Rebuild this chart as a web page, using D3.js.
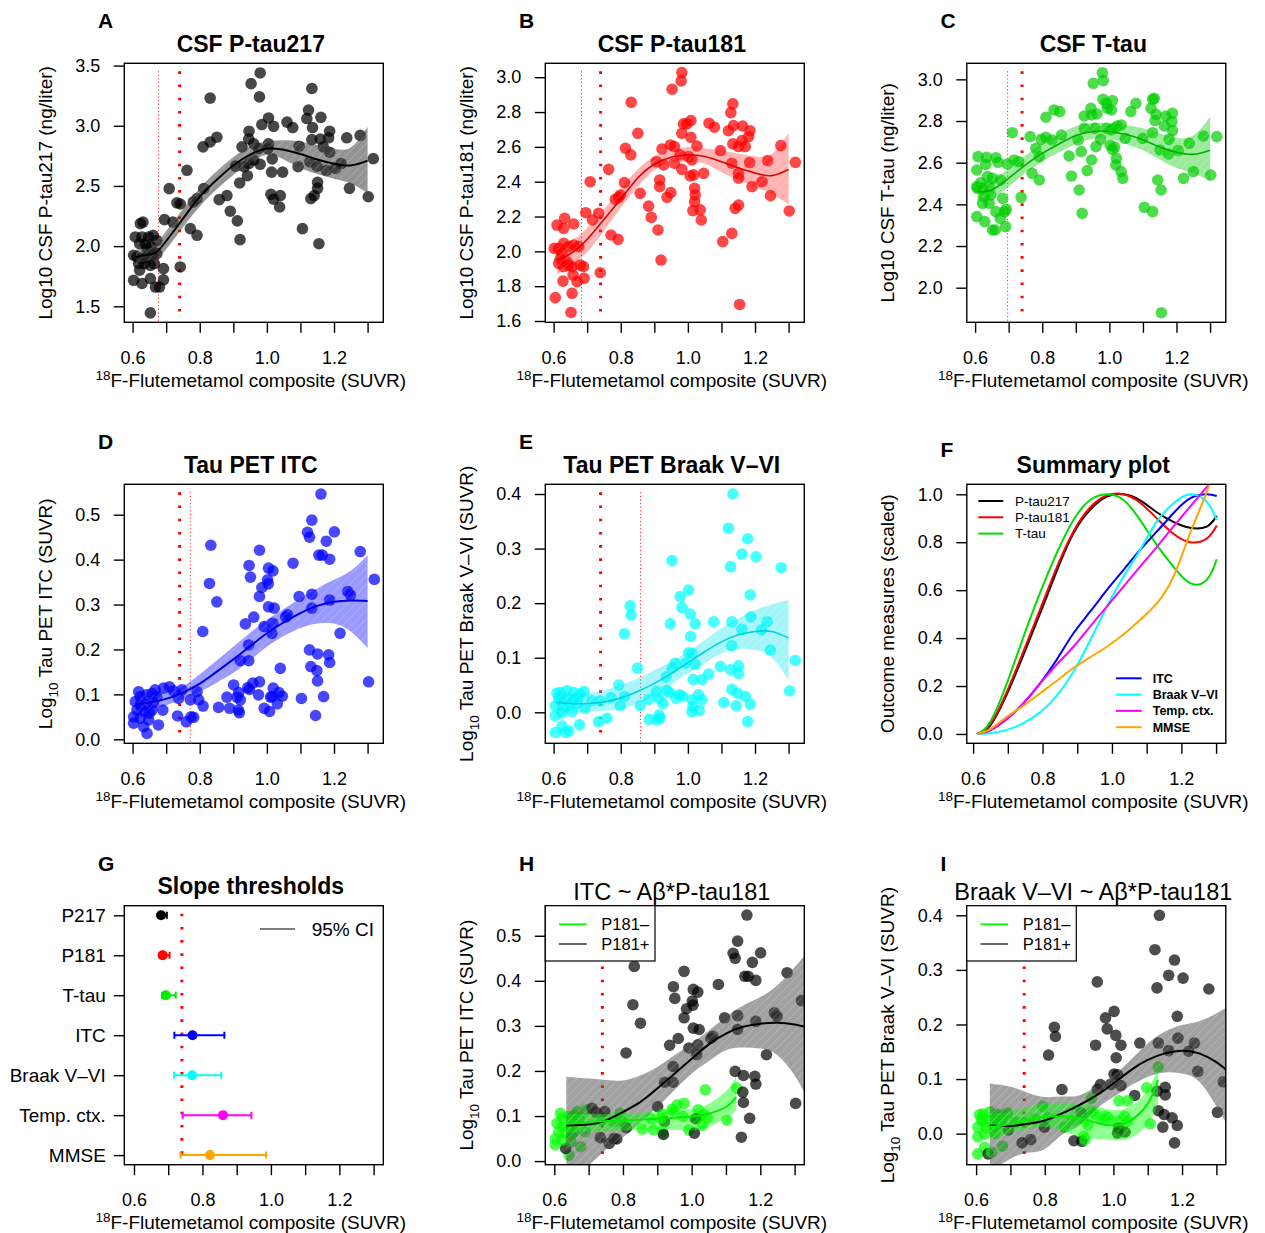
<!DOCTYPE html>
<html>
<head>
<meta charset="utf-8">
<title>Amyloid slope thresholds</title>
<script src="https://cdn.jsdelivr.net/npm/d3@7"></script>
<style>
body { margin: 0; background: #fff; }
svg { font-family: "Liberation Sans", Arial, Helvetica, sans-serif; }
</style>
</head>
<body>
<svg width="1265" height="1233"></svg>
<script>
// ---------- data ----------
var xTicks = [0.6, 0.7, 0.8, 0.9, 1.0, 1.1, 1.2, 1.3];
var xLabels = ["0.6", "", "0.8", "", "1.0", "", "1.2", ""];
var threshold = 0.74;

// A: CSF P-tau217
var aPoints = [[0.980,3.439],[0.953,3.35],[1.134,3.31],[0.978,3.24],[0.831,3.23],[1.124,3.13],[1.119,3.06],[1.161,3.07],[1.005,3.065],[1.060,3.03],[1.077,2.985],[0.985,3.01],[1.020,2.995],[1.136,2.985],[1.278,2.92],[1.238,2.90],[1.187,2.955],[1.184,2.90],[1.159,2.89],[1.134,2.885],[0.947,2.955],[0.851,2.905],[0.831,2.865],[0.810,2.825],[0.946,2.89],[0.961,2.85],[0.926,2.825],[0.975,2.81],[1.005,2.85],[1.003,2.81],[1.096,2.83],[1.187,2.78],[1.168,2.825],[0.961,2.715],[0.980,2.68],[0.946,2.685],[1.016,2.725],[0.907,2.665],[0.932,2.66],[0.942,2.585],[0.919,2.525],[1.128,2.70],[1.149,2.665],[1.177,2.63],[1.204,2.645],[1.221,2.685],[1.093,2.66],[1.014,2.615],[1.047,2.615],[1.151,2.53],[1.151,2.48],[1.141,2.42],[1.131,2.395],[1.246,2.48],[1.302,2.41],[1.317,2.727],[1.012,2.43],[1.020,2.39],[1.038,2.325],[1.040,2.42],[0.762,2.63],[0.709,2.478],[0.812,2.478],[0.792,2.395],[0.781,2.367],[0.732,2.36],[0.742,2.35],[0.858,2.386],[0.881,2.42],[0.891,2.29],[0.912,2.21],[0.920,2.054],[1.106,2.145],[1.155,2.02],[0.695,2.22],[0.720,2.20],[0.772,2.145],[0.792,2.09],[0.742,1.827],[0.692,1.813],[0.692,1.72],[0.680,1.66],[0.668,1.66],[0.653,1.445],[0.631,2.20],[0.623,2.187],[0.608,2.076],[0.628,2.076],[0.648,2.076],[0.661,2.09],[0.638,2.02],[0.655,1.993],[0.603,1.924],[0.613,1.91],[0.628,1.896],[0.643,1.91],[0.658,1.924],[0.672,1.938],[0.618,1.855],[0.635,1.855],[0.653,1.84],[0.621,1.80],[0.603,1.716],[0.628,1.69],[0.653,1.73],[0.643,1.98],[0.621,2.02],[0.665,1.855],[0.672,2.048]];
var aFitX = [0.61, 0.65, 0.68, 0.74, 0.80, 0.85, 0.90, 0.95, 1.00, 1.05, 1.10, 1.15, 1.20, 1.25, 1.30];
var aFit = [1.91, 1.93, 1.975, 2.19, 2.41, 2.55, 2.67, 2.76, 2.81, 2.80, 2.765, 2.72, 2.685, 2.67, 2.71];
var aLo = [1.85, 1.88, 1.91, 2.12, 2.33, 2.47, 2.59, 2.69, 2.76, 2.72, 2.65, 2.60, 2.56, 2.52, 2.44];
var aHi = [1.97, 1.98, 2.05, 2.27, 2.48, 2.62, 2.74, 2.83, 2.87, 2.88, 2.87, 2.84, 2.81, 2.82, 2.99];

// B: CSF P-tau181
var bPoints = [[0.982,3.027],[0.980,2.979],[0.953,2.931],[0.831,2.856],[1.134,2.847],[1.128,2.797],[1.063,2.736],[1.079,2.713],[0.987,2.732],[0.997,2.732],[1.009,2.751],[1.136,2.722],[1.121,2.693],[1.163,2.720],[1.185,2.693],[1.181,2.659],[0.851,2.678],[0.982,2.678],[0.814,2.592],[0.830,2.554],[1.277,2.607],[1.134,2.617],[1.161,2.636],[1.171,2.602],[1.151,2.602],[0.948,2.611],[0.960,2.602],[0.923,2.588],[0.977,2.554],[1.009,2.655],[1.027,2.605],[1.097,2.579],[0.764,2.471],[0.709,2.40],[0.811,2.395],[0.960,2.506],[0.906,2.515],[0.928,2.496],[1.012,2.525],[1.002,2.544],[0.982,2.471],[1.007,2.433],[1.017,2.439],[1.047,2.448],[1.131,2.506],[1.151,2.42],[1.151,2.448],[1.184,2.510],[1.191,2.372],[1.221,2.40],[1.238,2.521],[1.246,2.32],[1.302,2.232],[1.320,2.511],[0.916,2.41],[0.916,2.372],[0.938,2.31],[0.949,2.337],[0.858,2.333],[1.020,2.362],[1.022,2.324],[1.020,2.285],[1.015,2.234],[1.037,2.238],[1.040,2.18],[1.141,2.247],[1.151,2.266],[0.883,2.26],[0.891,2.195],[0.911,2.123],[1.104,2.056],[1.131,2.103],[0.920,1.95],[1.154,1.695],[0.784,2.299],[0.794,2.31],[0.799,2.324],[0.696,2.222],[0.716,2.18],[0.734,2.218],[0.771,2.094],[0.792,2.069],[0.739,1.877],[0.689,1.912],[0.679,1.921],[0.691,1.845],[0.670,1.826],[0.655,1.759],[0.652,1.649],[0.605,1.734],[0.610,2.151],[0.633,2.19],[0.630,2.132],[0.660,2.157],[0.602,2.017],[0.615,2.017],[0.630,2.046],[0.645,2.027],[0.660,2.036],[0.675,2.027],[0.625,1.989],[0.615,1.931],[0.630,1.912],[0.645,1.921],[0.620,1.960],[0.655,1.912],[0.628,1.829],[0.658,1.864],[0.640,1.94]];
var bFitX = [0.61, 0.63, 0.68, 0.74, 0.80, 0.85, 0.90, 0.95, 1.00, 1.05, 1.10, 1.15, 1.20, 1.25, 1.30];
var bFit = [1.955, 1.965, 2.03, 2.16, 2.30, 2.42, 2.50, 2.54, 2.555, 2.545, 2.515, 2.48, 2.45, 2.435, 2.47];
var bLo = [1.87, 1.89, 1.96, 2.09, 2.25, 2.37, 2.465, 2.51, 2.515, 2.505, 2.455, 2.41, 2.37, 2.33, 2.27];
var bHi = [2.04, 2.04, 2.10, 2.22, 2.36, 2.47, 2.545, 2.58, 2.60, 2.59, 2.58, 2.56, 2.545, 2.56, 2.68];

// C: CSF T-tau
var cPoints = [[0.979,3.032],[0.982,2.994],[0.952,2.981],[0.981,2.904],[1.009,2.898],[0.991,2.885],[0.994,2.861],[1.006,2.853],[1.134,2.909],[1.129,2.904],[1.079,2.885],[1.064,2.845],[1.124,2.861],[1.139,2.832],[1.188,2.837],[1.168,2.824],[1.136,2.802],[1.186,2.797],[1.164,2.776],[1.188,2.754],[1.129,2.744],[1.178,2.712],[1.099,2.717],[1.280,2.728],[1.320,2.725],[1.238,2.693],[1.205,2.658],[1.151,2.661],[1.176,2.642],[1.250,2.557],[1.221,2.525],[1.302,2.541],[1.144,2.517],[1.154,2.469],[1.104,2.386],[1.129,2.365],[1.155,1.88],[0.945,2.861],[0.947,2.829],[0.963,2.834],[0.925,2.824],[0.925,2.765],[0.957,2.765],[0.992,2.765],[1.006,2.757],[1.023,2.776],[1.035,2.781],[1.016,2.765],[0.974,2.712],[1.002,2.685],[1.009,2.664],[1.016,2.674],[1.021,2.621],[1.019,2.589],[1.035,2.557],[1.040,2.525],[1.047,2.717],[0.960,2.677],[0.907,2.709],[0.916,2.653],[0.947,2.613],[0.934,2.562],[0.887,2.536],[0.880,2.632],[0.910,2.469],[0.919,2.357],[0.857,2.733],[0.835,2.853],[0.852,2.845],[0.811,2.818],[0.797,2.712],[0.811,2.722],[0.829,2.709],[0.781,2.669],[0.791,2.629],[0.770,2.549],[0.791,2.517],[0.764,2.725],[0.711,2.744],[0.716,2.613],[0.730,2.605],[0.737,2.434],[0.696,2.594],[0.693,2.376],[0.691,2.293],[0.609,2.629],[0.634,2.626],[0.662,2.624],[0.668,2.602],[0.605,2.565],[0.632,2.592],[0.605,2.485],[0.617,2.504],[0.637,2.533],[0.652,2.525],[0.676,2.517],[0.622,2.477],[0.642,2.485],[0.627,2.437],[0.647,2.445],[0.622,2.405],[0.642,2.405],[0.682,2.429],[0.605,2.341],[0.629,2.317],[0.662,2.365],[0.675,2.333],[0.688,2.365],[0.652,2.277],[0.660,2.277],[0.607,2.477]];
var cFitX = [0.607, 0.65, 0.70, 0.75, 0.80, 0.85, 0.90, 0.95, 1.00, 1.05, 1.10, 1.15, 1.20, 1.25, 1.30];
var cFit = [2.46, 2.47, 2.525, 2.59, 2.645, 2.69, 2.73, 2.75, 2.75, 2.735, 2.71, 2.675, 2.65, 2.64, 2.66];
var cLo = [2.42, 2.43, 2.485, 2.55, 2.605, 2.65, 2.69, 2.715, 2.715, 2.69, 2.66, 2.615, 2.575, 2.55, 2.51];
var cHi = [2.51, 2.515, 2.573, 2.635, 2.69, 2.735, 2.775, 2.79, 2.79, 2.78, 2.765, 2.74, 2.72, 2.73, 2.82];

// D / H: tau PET ITC  [x, y, P-tau181 positive]
var itcPoints = [[1.161,0.546,1],[1.134,0.488,1],[0.833,0.432,1],[1.121,0.461,1],[1.127,0.450,1],[1.201,0.462,1],[1.177,0.441,1],[1.278,0.418,1],[0.978,0.421,1],[1.155,0.410,1],[1.165,0.410,1],[1.187,0.401,1],[1.078,0.392,1],[0.947,0.387,1],[1.005,0.381,1],[1.018,0.375,1],[0.951,0.361,1],[0.829,0.347,1],[1.002,0.355,1],[1.004,0.346,1],[1.320,0.356,1],[0.985,0.338,1],[0.851,0.306,1],[0.978,0.318,1],[1.134,0.323,1],[1.096,0.318,1],[1.241,0.329,1],[1.249,0.321,1],[1.187,0.310,1],[1.005,0.295,1],[1.022,0.292,1],[1.134,0.292,1],[1.062,0.277,1],[1.056,0.272,1],[0.961,0.272,1],[0.936,0.257,1],[1.018,0.258,1],[0.992,0.251,1],[1.015,0.236,1],[1.218,0.236,1],[0.809,0.240,1],[0.946,0.210,1],[0.946,0.175,1],[0.921,0.175,1],[1.127,0.199,1],[1.151,0.190,1],[1.184,0.188,1],[1.187,0.171,1],[1.131,0.162,0],[1.149,0.153,1],[1.151,0.130,1],[1.169,0.095,1],[1.145,0.053,1],[1.303,0.128,1],[1.040,0.158,0],[1.103,0.091,0],[0.901,0.121,1],[0.978,0.128,0],[0.958,0.125,0],[0.948,0.111,0],[0.943,0.115,0],[0.916,0.104,0],[0.921,0.088,1],[0.911,0.094,0],[0.881,0.094,0],[0.975,0.099,0],[1.019,0.114,0],[1.016,0.095,0],[1.036,0.104,0],[1.046,0.096,0],[1.011,0.094,1],[1.031,0.079,0],[0.992,0.069,0],[1.008,0.062,1],[0.915,0.065,0],[0.918,0.059,1],[0.889,0.069,0],[0.856,0.071,0],[0.792,0.106,0],[0.797,0.088,0],[0.810,0.074,1],[0.737,0.091,0],[0.774,0.050,1],[0.782,0.049,1],[0.760,0.039,1],[0.734,0.052,1],[0.722,0.108,1],[0.692,0.114,0],[0.710,0.117,1],[0.690,0.065,0],[0.677,0.032,0],[0.643,0.013,0],[0.633,0.028,1],[0.603,0.036,0],[0.603,0.050,0],[0.613,0.065,0],[0.608,0.084,0],[0.623,0.095,0],[0.641,0.099,0],[0.658,0.102,0],[0.672,0.095,0],[0.623,0.076,0],[0.643,0.076,0],[0.662,0.082,0],[0.633,0.062,0],[0.650,0.058,0],[0.623,0.047,0],[0.648,0.043,0],[0.618,0.106,0],[0.667,0.110,0],[0.658,0.065,0],[0.747,0.110,1],[0.772,0.088,0]];
var dFitX = [0.61, 0.65, 0.70, 0.75, 0.80, 0.85, 0.90, 0.95, 1.00, 1.05, 1.10, 1.15, 1.20, 1.25, 1.30];
var dFit = [0.078, 0.082, 0.090, 0.104, 0.124, 0.150, 0.178, 0.207, 0.236, 0.260, 0.281, 0.297, 0.306, 0.309, 0.308];
var dLo = [0.058, 0.065, 0.076, 0.090, 0.106, 0.126, 0.148, 0.176, 0.206, 0.230, 0.248, 0.258, 0.258, 0.240, 0.203];
var dHi = [0.097, 0.099, 0.105, 0.118, 0.145, 0.175, 0.206, 0.237, 0.266, 0.290, 0.314, 0.336, 0.355, 0.375, 0.410];

// E / I: tau PET Braak V-VI  [x, y, P-tau181 positive]
var braakPoints = [[1.134,0.400,1],[1.121,0.337,1],[1.178,0.318,1],[1.161,0.290,1],[1.203,0.285,1],[1.127,0.267,1],[1.278,0.265,1],[0.953,0.278,1],[1.002,0.224,1],[0.977,0.212,1],[1.186,0.215,1],[0.828,0.195,1],[0.831,0.178,1],[0.982,0.192,1],[1.007,0.180,1],[0.948,0.162,1],[1.022,0.162,1],[0.811,0.144,1],[1.077,0.166,1],[1.188,0.175,1],[1.131,0.166,1],[1.161,0.152,1],[1.236,0.166,1],[1.219,0.151,1],[1.008,0.139,1],[1.131,0.122,0],[1.246,0.114,1],[1.320,0.095,1],[1.002,0.109,1],[1.012,0.108,1],[1.022,0.088,1],[0.992,0.090,1],[0.962,0.090,1],[0.953,0.081,1],[0.936,0.065,0],[1.097,0.084,0],[1.127,0.078,1],[1.151,0.085,1],[1.151,0.071,1],[1.062,0.070,1],[1.042,0.060,0],[1.016,0.060,0],[0.850,0.081,1],[0.937,0.040,0],[0.945,0.036,0],[0.975,0.032,0],[0.985,0.029,0],[0.965,0.026,0],[0.906,0.038,1],[0.913,0.026,0],[0.926,0.016,0],[1.012,0.023,0],[1.015,0.010,1],[1.032,0.032,0],[1.042,0.023,0],[1.012,0.001,1],[1.034,0.003,1],[1.131,0.042,1],[1.148,0.035,1],[1.171,0.029,1],[1.144,0.012,1],[1.186,0.015,1],[1.107,0.018,0],[1.178,-0.017,1],[1.303,0.039,1],[0.914,-0.005,0],[0.885,-0.013,1],[0.908,-0.014,1],[0.917,-0.011,0],[0.883,0.024,0],[0.858,0.012,0],[0.794,0.050,0],[0.811,0.029,0],[0.799,0.012,1],[0.771,0.027,0],[0.759,-0.011,1],[0.734,-0.017,1],[0.739,0.021,0],[0.694,0.007,1],[0.677,-0.023,0],[0.679,0.034,0],[0.691,0.038,0],[0.660,0.036,0],[0.640,0.040,0],[0.620,0.036,0],[0.610,0.035,0],[0.605,0.012,0],[0.605,-0.006,0],[0.605,-0.037,0],[0.625,-0.025,0],[0.635,-0.037,1],[0.645,-0.034,0],[0.620,0.023,0],[0.640,0.023,0],[0.660,0.024,0],[0.630,0.010,0],[0.650,0.013,0],[0.670,0.016,0],[0.625,-0.001,0],[0.655,0.001,0],[0.675,0.026,0],[0.615,0.026,0],[0.714,0.021,0]];
var eFitX = [0.61, 0.65, 0.70, 0.75, 0.80, 0.85, 0.90, 0.95, 1.00, 1.05, 1.10, 1.15, 1.20, 1.25, 1.30];
var eFit = [0.018, 0.016, 0.016, 0.019, 0.026, 0.038, 0.053, 0.071, 0.091, 0.111, 0.129, 0.142, 0.148, 0.148, 0.136];
var eLo = [-0.008, -0.002, 0.001, 0.003, 0.006, 0.016, 0.029, 0.050, 0.071, 0.090, 0.108, 0.116, 0.114, 0.100, 0.059];
var eHi = [0.040, 0.036, 0.035, 0.040, 0.050, 0.062, 0.077, 0.093, 0.111, 0.132, 0.154, 0.172, 0.187, 0.198, 0.206];

// F: summary curves (scaled)
var fX = [0.611, 0.649, 0.697, 0.745, 0.793, 0.841, 0.889, 0.937, 0.985, 1.033, 1.081, 1.129, 1.177, 1.225, 1.273, 1.302];
var fPtau217 = [0, 0.035, 0.165, 0.33, 0.503, 0.68, 0.837, 0.935, 0.99, 1.0, 0.975, 0.925, 0.885, 0.86, 0.865, 0.91];
var fPtau181 = [0, 0.04, 0.175, 0.345, 0.52, 0.695, 0.845, 0.945, 0.995, 1.0, 0.965, 0.9, 0.835, 0.80, 0.815, 0.87];
var fTtau = [0, 0.05, 0.21, 0.405, 0.59, 0.755, 0.893, 0.976, 1.0, 0.976, 0.893, 0.789, 0.698, 0.629, 0.643, 0.729];
var fItc = [0, 0.015, 0.062, 0.128, 0.211, 0.31, 0.42, 0.51, 0.60, 0.684, 0.768, 0.844, 0.921, 0.983, 1.0, 0.993];
var fBraak = [0, 0.003, 0.017, 0.045, 0.09, 0.16, 0.26, 0.39, 0.53, 0.656, 0.768, 0.886, 0.962, 1.0, 0.969, 0.893];
var fTemp = [0, 0.015, 0.062, 0.128, 0.211, 0.29, 0.364, 0.448, 0.531, 0.615, 0.698, 0.78, 0.865, 0.948, 1.03, 1.08];
var fMmse = [0, 0.02, 0.072, 0.118, 0.17, 0.222, 0.275, 0.32, 0.364, 0.415, 0.476, 0.545, 0.656, 0.837, 1.01, 1.15];

// G: slope thresholds with 95% CI
var gLabels = ["P217", "P181", "T-tau", "ITC", "Braak V\u2013VI", "Temp. ctx.", "MMSE"];
var gEst = [0.679, 0.684, 0.693, 0.771, 0.770, 0.860, 0.822];
var gLo = [0.672, 0.675, 0.682, 0.718, 0.717, 0.742, 0.736];
var gHi = [0.696, 0.704, 0.722, 0.864, 0.855, 0.943, 0.986];
var gColors = ["#000000", "#ff0000", "#00ee00", "#0000ff", "#00ffff", "#ff00ff", "#ffa500"];

// H: ITC fits by P-tau181 status
var hPosX = [0.635, 0.70, 0.75, 0.80, 0.85, 0.90, 0.95, 1.00, 1.05, 1.10, 1.15, 1.20, 1.25, 1.30, 1.33];
var hPosFit = [0.079, 0.081, 0.090, 0.109, 0.131, 0.161, 0.194, 0.227, 0.259, 0.283, 0.298, 0.305, 0.307, 0.303, 0.298];
var hPosLo = [-0.05, -0.01, 0.025, 0.053, 0.085, 0.12, 0.158, 0.194, 0.222, 0.246, 0.252, 0.250, 0.235, 0.19, 0.15];
var hPosHi = [0.187, 0.183, 0.180, 0.179, 0.19, 0.209, 0.235, 0.261, 0.29, 0.32, 0.345, 0.364, 0.39, 0.43, 0.457];
var hNegX = [0.635, 0.70, 0.80, 0.90, 1.00, 1.05, 1.10, 1.13];
var hNegFit = [0.083, 0.087, 0.090, 0.094, 0.099, 0.105, 0.12, 0.142];
var hNegLo = [0.061, 0.066, 0.068, 0.070, 0.068, 0.076, 0.095, 0.113];
var hNegHi = [0.105, 0.104, 0.105, 0.110, 0.116, 0.127, 0.155, 0.187];

// I: Braak V-VI fits by P-tau181 status
var iPosX = [0.64, 0.70, 0.75, 0.80, 0.85, 0.90, 0.95, 1.00, 1.05, 1.10, 1.15, 1.20, 1.25, 1.30, 1.33];
var iPosFit = [0.015, 0.014, 0.018, 0.024, 0.037, 0.052, 0.070, 0.092, 0.116, 0.135, 0.147, 0.152, 0.147, 0.131, 0.116];
var iPosLo = [-0.07, -0.046, -0.035, -0.028, -0.002, 0.015, 0.045, 0.067, 0.088, 0.104, 0.112, 0.110, 0.095, 0.05, 0.018];
var iPosHi = [0.092, 0.086, 0.075, 0.067, 0.068, 0.07, 0.087, 0.107, 0.135, 0.165, 0.187, 0.199, 0.206, 0.22, 0.232];
var iNegX = [0.64, 0.70, 0.80, 0.90, 0.95, 1.00, 1.05, 1.10, 1.13];
var iNegFit = [0.012, 0.018, 0.031, 0.028, 0.020, 0.015, 0.024, 0.055, 0.098];
var iNegLo = [-0.009, 0.0, 0.012, -0.006, -0.010, -0.012, -0.008, 0.018, 0.055];
var iNegHi = [0.037, 0.04, 0.055, 0.055, 0.05, 0.043, 0.05, 0.08, 0.122];

// ---------- drawing ----------
var svg = d3.select("svg");
var defs = svg.append("defs");
var colX = [0, 421, 842.5], rowY = [0, 421, 842.4];
var BW = 259, BH = 259;
var FONT = "'Liberation Sans', Arial, Helvetica, sans-serif";

var hatch = defs.append("pattern").attr("id", "hatch").attr("patternUnits", "userSpaceOnUse")
  .attr("width", 6).attr("height", 6).attr("patternTransform", "rotate(45)");
hatch.append("line").attr("x1", 0).attr("y1", 0).attr("x2", 0).attr("y2", 6)
  .attr("stroke", "#fff").attr("stroke-width", 1).attr("stroke-opacity", 0.35);

function makePanel(col, row, xd, yd) {
  var L = colX[col] + 124.3, T = rowY[row] + 63.3;
  var x = d3.scaleLinear().domain(xd).range([L, L + BW]);
  var y = d3.scaleLinear().domain(yd).range([T + BH, T]);
  var id = "clip" + col + "_" + row;
  defs.append("clipPath").attr("id", id).append("rect")
    .attr("x", L).attr("y", T).attr("width", BW).attr("height", BH);
  var g = svg.append("g");
  var inner = g.append("g").attr("clip-path", "url(#" + id + ")");
  return { L: L, T: T, x: x, y: y, g: g, inner: inner, col: col, row: row };
}

function vline(p, v, thick) {
  p.inner.append("line")
    .attr("x1", p.x(v)).attr("x2", p.x(v)).attr("y1", p.T + 8).attr("y2", p.T + BH)
    .attr("stroke", "#ff0000")
    .attr("stroke-width", thick ? 3 : 1)
    .attr("stroke-dasharray", thick ? "2.6 10.6" : "1 2.6");
}

function dots(p, pts, color, op) {
  p.inner.selectAll(null).data(pts).enter().append("circle")
    .attr("cx", function(d) { return p.x(d[0]); })
    .attr("cy", function(d) { return p.y(d[1]); })
    .attr("r", 5.8)
    .attr("fill", typeof color === "function" ? color : function() { return color; })
    .attr("fill-opacity", op);
}

function band(p, xs, lo, hi, fill, op) {
  var area = d3.area()
    .x(function(d, i) { return p.x(xs[i]); })
    .y0(function(d, i) { return p.y(lo[i]); })
    .y1(function(d, i) { return p.y(hi[i]); })
    .curve(d3.curveNatural);
  p.inner.append("path").datum(xs).attr("d", area).attr("fill", fill).attr("fill-opacity", op);
  p.inner.append("path").datum(xs).attr("d", area).attr("fill", "url(#hatch)");
}

function fitLine(p, xs, ys, color, w) {
  var line = d3.line()
    .x(function(d, i) { return p.x(xs[i]); })
    .y(function(d, i) { return p.y(ys[i]); })
    .curve(d3.curveNatural);
  p.inner.append("path").datum(xs).attr("d", line)
    .attr("fill", "none").attr("stroke", color).attr("stroke-width", w || 2);
}

function frame(p, o) {
  p.g.append("rect").attr("x", p.L).attr("y", p.T).attr("width", BW).attr("height", BH)
    .attr("fill", "none").attr("stroke", "#000").attr("stroke-width", 1.4);

  var xa = p.g.append("g").attr("transform", "translate(0," + (p.T + BH) + ")")
    .call(d3.axisBottom(p.x).tickValues(xTicks)
      .tickFormat(function(d, i) { return xLabels[i]; })
      .tickSize(10.5).tickPadding(18.5));
  var ya = p.g.append("g").attr("transform", "translate(" + p.L + ",0)")
    .call(d3.axisLeft(p.y).tickValues(o.yTicks)
      .tickFormat(function(d, i) { return o.yLabels[i]; })
      .tickSize(10.5).tickPadding(o.yPad || 13.5));
  [xa, ya].forEach(function(a) {
    a.attr("font-family", FONT).attr("font-size", 18);
    a.select(".domain").remove();
    a.selectAll(".tick line").attr("stroke-width", 1.4);
    a.selectAll(".tick text").attr("fill", "#000");
  });
  if (o.yFont) ya.attr("font-size", o.yFont);

  // x axis title with superscript 18
  var xt = p.g.append("text").attr("x", p.L + BW / 2 - 3).attr("y", p.T + BH + 64.5)
    .attr("text-anchor", "middle").attr("font-size", 19);
  xt.append("tspan").attr("font-size", 13.5).attr("dy", -7).text("18");
  xt.append("tspan").attr("dy", 7).text("F-Flutemetamol composite (SUVR)");

  // y axis title
  if (o.yTitle) {
    var yt = p.g.append("text")
      .attr("transform", "translate(" + (p.L - 72.5) + "," + (p.T + BH / 2) + ") rotate(-90)")
      .attr("text-anchor", "middle").attr("font-size", 19);
    if (o.ySub) {
      yt.append("tspan").text("Log");
      yt.append("tspan").attr("font-size", 13.5).attr("dy", 6).text("10");
      yt.append("tspan").attr("dy", -6).text(" " + o.yTitle);
    } else {
      yt.text(o.yTitle);
    }
  }

  // main title
  p.g.append("text").attr("x", p.L + BW / 2 - 3).attr("y", o.bold === false ? p.T - 6 : p.T - 11.7)
    .attr("text-anchor", "middle")
    .attr("font-size", o.bold === false ? 23.5 : 23)
    .attr("font-weight", o.bold === false ? "normal" : "bold")
    .text(o.title);

  // panel letter
  p.g.append("text").attr("x", colX[p.col] + 98).attr("y", p.T - (o.letterGap || 35))
    .attr("font-size", 21).attr("font-weight", "bold").text(o.letter);
}

function range(a, b, s) { return d3.range(a, b + s / 2, s).map(function(v) { return +v.toFixed(2); }); }
function fmt(v) { return d3.format(".1f")(v); }

// ---- A ----
var pA = makePanel(0, 0, [0.5753, 1.3468], [1.367, 3.519]);
vline(pA, 0.677, false); vline(pA, threshold, true);
dots(pA, aPoints, "#000", 0.72);
band(pA, aFitX, aLo, aHi, "#3a3a3a", 0.55);
fitLine(pA, aFitX, aFit, "#000", 2);
var aTicks = range(1.5, 3.5, 0.5);
frame(pA, { yTicks: aTicks, yLabels: aTicks.map(fmt), yTitle: "Log10 CSF P-tau217 (ng/liter)", title: "CSF P-tau217", letter: "A" });

// ---- B ----
var pB = makePanel(1, 0, [0.5753, 1.3468], [1.5925, 3.080]);
vline(pB, 0.683, false); vline(pB, threshold, true);
dots(pB, bPoints, "#ff0000", 0.72);
band(pB, bFitX, bLo, bHi, "#ff0000", 0.3);
fitLine(pB, bFitX, bFit, "#e00000", 1.6);
var bTicks = range(1.6, 3.0, 0.2);
frame(pB, { yTicks: bTicks, yLabels: bTicks.map(fmt), yTitle: "Log10 CSF P-tau181 (ng/liter)", title: "CSF P-tau181", letter: "B" });

// ---- C ----
var pC = makePanel(2, 0, [0.5753, 1.3468], [1.834, 3.077]);
vline(pC, 0.697, false); vline(pC, threshold, true);
dots(pC, cPoints, "#00cd00", 0.7);
band(pC, cFitX, cLo, cHi, "#00cd00", 0.4);
fitLine(pC, cFitX, cFit, "#00b000", 1.6);
var cTicks = range(2.0, 3.0, 0.2);
frame(pC, { yTicks: cTicks, yLabels: cTicks.map(fmt), yTitle: "Log10 CSF T-tau (ng/liter)", title: "CSF T-tau", letter: "C" });

// ---- D ----
var pD = makePanel(0, 1, [0.5753, 1.3468], [-0.0089, 0.5677]);
vline(pD, 0.772, false); vline(pD, threshold, true);
dots(pD, itcPoints, "#0000ff", 0.72);
band(pD, dFitX, dLo, dHi, "#0000ff", 0.4);
fitLine(pD, dFitX, dFit, "#0000dd", 2);
var dTicks = range(0, 0.5, 0.1);
frame(pD, { yTicks: dTicks, yLabels: dTicks.map(fmt), yTitle: "Tau PET ITC (SUVR)", ySub: true, title: "Tau PET ITC", letter: "D" });

// ---- E ----
var pE = makePanel(1, 1, [0.5753, 1.3468], [-0.0568, 0.4178]);
vline(pE, 0.859, false); vline(pE, threshold, true);
dots(pE, braakPoints, "#00ffff", 0.72);
band(pE, eFitX, eLo, eHi, "#00e5ee", 0.35);
fitLine(pE, eFitX, eFit, "#00d0e0", 1.6);
var eTicks = range(0, 0.4, 0.1);
frame(pE, { yTicks: eTicks, yLabels: eTicks.map(fmt), yTitle: "Tau PET Braak V\u2013VI (SUVR)", ySub: true, title: "Tau PET Braak V\u2013VI", letter: "E" });

// ---- F ----
var pF = makePanel(2, 1, [0.5818, 1.328], [-0.039, 1.0417]);
var fSeries = [
  { v: fPtau217, c: "#000000" }, { v: fPtau181, c: "#ff0000" }, { v: fTtau, c: "#00dd00" },
  { v: fItc, c: "#0000ff" }, { v: fBraak, c: "#00ffff" }, { v: fTemp, c: "#ff00ff" }, { v: fMmse, c: "#ffa500" }
];
fSeries.forEach(function(s) { fitLine(pF, fX, s.v, s.c, 2); });
var fTicks = range(0, 1, 0.2);
frame(pF, { yTicks: fTicks, yLabels: fTicks.map(fmt), yTitle: "Outcome measures (scaled)", title: "Summary plot", letter: "F", letterGap: 27.6 });
var legF1 = [["P-tau217", "#000000"], ["P-tau181", "#ff0000"], ["T-tau", "#00dd00"]];
legF1.forEach(function(d, i) {
  var yy = 501 + i * 16.3;
  svg.append("line").attr("x1", 978.3).attr("x2", 1003.3).attr("y1", yy).attr("y2", yy).attr("stroke", d[1]).attr("stroke-width", 2);
  svg.append("text").attr("x", 1015).attr("y", yy).attr("dy", "0.35em").attr("font-size", 13.5).text(d[0]);
});
var legF2 = [["ITC", "#0000ff"], ["Braak V\u2013VI", "#00ffff"], ["Temp. ctx.", "#ff00ff"], ["MMSE", "#ffa500"]];
legF2.forEach(function(d, i) {
  var yy = 678.3 + i * 16.3;
  svg.append("line").attr("x1", 1116).attr("x2", 1141.7).attr("y1", yy).attr("y2", yy).attr("stroke", d[1]).attr("stroke-width", 2);
  svg.append("text").attr("x", 1152.7).attr("y", yy).attr("dy", "0.35em").attr("font-size", 12.5).attr("font-weight", "bold").text(d[0]);
});

// ---- G ----
var pG = makePanel(0, 2, [0.5717, 1.3283], [0.76, 7.24]);
vline(pG, threshold, true);
var gPos = gLabels.map(function(d, i) { return 7 - i; });
gLabels.forEach(function(lab, i) {
  var yy = pG.y(gPos[i]);
  pG.inner.append("line").attr("x1", pG.x(gLo[i])).attr("x2", pG.x(gHi[i])).attr("y1", yy).attr("y2", yy)
    .attr("stroke", gColors[i]).attr("stroke-width", 2);
  [gLo[i], gHi[i]].forEach(function(v) {
    pG.inner.append("line").attr("x1", pG.x(v)).attr("x2", pG.x(v)).attr("y1", yy - 3.5).attr("y2", yy + 3.5)
      .attr("stroke", gColors[i]).attr("stroke-width", 2);
  });
  pG.inner.append("circle").attr("cx", pG.x(gEst[i])).attr("cy", yy).attr("r", 5).attr("fill", gColors[i]);
});
frame(pG, { yTicks: gPos, yLabels: gLabels, yPad: 8, yFont: 19, title: "Slope thresholds", letter: "G" });
svg.append("line").attr("x1", 260).attr("x2", 295).attr("y1", 929).attr("y2", 929).attr("stroke", "#555").attr("stroke-width", 1.5);
svg.append("text").attr("x", 311.7).attr("y", 929).attr("dy", "0.35em").attr("font-size", 19).text("95% CI");

// ---- H and I ----
function groupColor(d) { return d[2] ? "#000000" : "#00ff00"; }
function groupLegend(p, right) {
  p.g.append("rect").attr("x", p.L).attr("y", p.T).attr("width", right - p.L).attr("height", 55.3)
    .attr("fill", "#fff").attr("stroke", "#000").attr("stroke-width", 1.2);
  [["P181\u2013", "#00ff00", 924.3], ["P181+", "#555555", 944]].forEach(function(d) {
    p.g.append("line").attr("x1", p.L + 13.6).attr("x2", p.L + 41.3).attr("y1", d[2]).attr("y2", d[2])
      .attr("stroke", d[1]).attr("stroke-width", 1.8);
    p.g.append("text").attr("x", p.L + 56).attr("y", d[2]).attr("dy", "0.35em").attr("font-size", 16.5).text(d[0]);
  });
}

var pH = makePanel(1, 2, [0.5738, 1.3282], [-0.008, 0.5667]);
vline(pH, threshold, true);
dots(pH, itcPoints, groupColor, 0.7);
band(pH, hPosX, hPosLo, hPosHi, "#444444", 0.5);
band(pH, hNegX, hNegLo, hNegHi, "#00ff00", 0.45);
fitLine(pH, hPosX, hPosFit, "#000", 2);
fitLine(pH, hNegX, hNegFit, "#00ee00", 2);
frame(pH, { yTicks: dTicks, yLabels: dTicks.map(fmt), yTitle: "Tau PET ITC (SUVR)", ySub: true, title: "ITC ~ A\u03b2*P-tau181", bold: false, letter: "H" });
groupLegend(pH, 655);

var pI = makePanel(2, 2, [0.5729, 1.3274], [-0.0569, 0.4176]);
vline(pI, threshold, true);
dots(pI, braakPoints, groupColor, 0.7);
band(pI, iPosX, iPosLo, iPosHi, "#444444", 0.5);
band(pI, iNegX, iNegLo, iNegHi, "#00ff00", 0.45);
fitLine(pI, iPosX, iPosFit, "#000", 2);
fitLine(pI, iNegX, iNegFit, "#00ee00", 2);
frame(pI, { yTicks: eTicks, yLabels: eTicks.map(fmt), yTitle: "Tau PET Braak V\u2013VI (SUVR)", ySub: true, title: "Braak V\u2013VI ~ A\u03b2*P-tau181", bold: false, letter: "I" });
groupLegend(pI, 1076.3);
</script>
</body>
</html>
